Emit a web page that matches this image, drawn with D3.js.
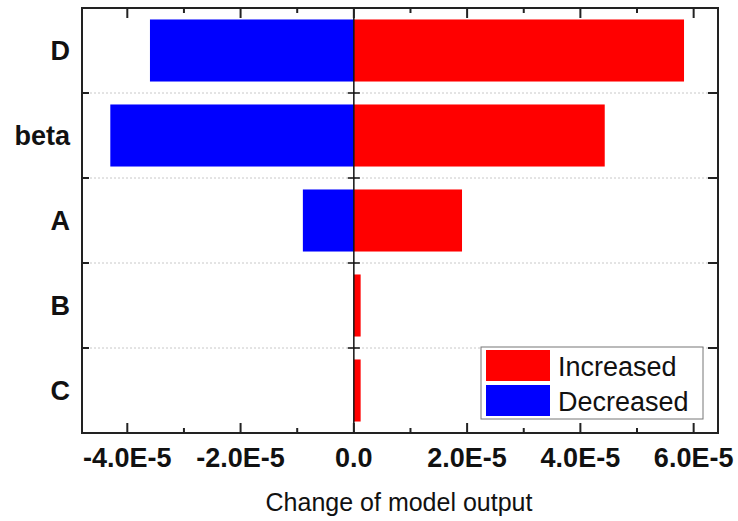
<!DOCTYPE html>
<html>
<head>
<meta charset="utf-8">
<script src="https://cdnjs.cloudflare.com/ajax/libs/d3/7.8.5/d3.min.js"></script>
<style>
  body { margin: 0; background: #fff; }
  svg { display: block; font-family: "Liberation Sans", Arial, sans-serif; }
</style>
</head>
<body>
<svg width="738" height="521"></svg>
<script>
// data
var categories = ["D", "beta", "A", "B", "C"];
var increased = [5.83e-5, 4.43e-5, 1.91e-5, 1.2e-6, 1.2e-6];
var decreased = [-3.6e-5, -4.3e-5, -0.9e-5, 0, 0];
var majorTicks = [-4e-5, -2e-5, 0, 2e-5, 4e-5, 6e-5];
var minorTicks = [-3e-5, -1e-5, 1e-5, 3e-5, 5e-5];
var legendNames = ["Increased", "Decreased"];
var colors = ["#ff0000", "#0000ff"];

var svg = d3.select("svg");
var pLeft = 82, pRight = 718, pTop = 8, pBottom = 433;

var x = d3.scaleLinear().domain([-4.8e-5, 6.43e-5]).range([pLeft, pRight]);
var y = d3.scaleBand().domain(categories).range([pTop, pBottom])
    .paddingInner(0.27).paddingOuter(0.135);
var step = y.step();

function fmt(v) {
    if (Math.abs(v) < 1e-12) return "0.0";
    return (v / 1e-5).toFixed(1) + "E-5";
}

// category boundaries (dotted grid)
var bounds = categories.slice(1).map(function (c) { return y(c) - step * 0.27 / 2; });

svg.append("g").selectAll("line").data(bounds).enter().append("line")
    .attr("x1", pLeft).attr("x2", pRight)
    .attr("y1", function (d) { return d; }).attr("y2", function (d) { return d; })
    .attr("stroke", "#c8c8c8").attr("stroke-width", 1).attr("stroke-dasharray", "2,2");

// bars
var rows = categories.map(function (c, i) { return { cat: c, inc: increased[i], dec: decreased[i] }; });

svg.append("g").selectAll("rect").data(rows).enter().append("rect")
    .attr("x", x(0))
    .attr("y", function (d) { return y(d.cat); })
    .attr("width", function (d) { return x(d.inc) - x(0); })
    .attr("height", y.bandwidth())
    .attr("fill", colors[0]);

svg.append("g").selectAll("rect").data(rows.filter(function (d) { return d.dec < 0; })).enter().append("rect")
    .attr("x", function (d) { return x(d.dec); })
    .attr("y", function (d) { return y(d.cat); })
    .attr("width", function (d) { return x(0) - x(d.dec); })
    .attr("height", y.bandwidth())
    .attr("fill", colors[1]);

// zero line with ticks
svg.append("line")
    .attr("x1", x(0)).attr("x2", x(0)).attr("y1", pTop).attr("y2", pBottom)
    .attr("stroke", "#111").attr("stroke-width", 1.5);
svg.append("g").selectAll("line").data(bounds).enter().append("line")
    .attr("x1", x(0) - 6).attr("x2", x(0) + 6)
    .attr("y1", function (d) { return d; }).attr("y2", function (d) { return d; })
    .attr("stroke", "#111").attr("stroke-width", 1.5);

// frame
svg.append("rect")
    .attr("x", pLeft).attr("y", pTop).attr("width", pRight - pLeft).attr("height", pBottom - pTop)
    .attr("fill", "none").attr("stroke", "#222").attr("stroke-width", 2);

// x ticks (inward, top and bottom)
var tickG = svg.append("g").attr("stroke", "#222").attr("stroke-width", 2);
majorTicks.forEach(function (v) {
    tickG.append("line").attr("x1", x(v)).attr("x2", x(v)).attr("y1", pBottom).attr("y2", pBottom - 10);
    tickG.append("line").attr("x1", x(v)).attr("x2", x(v)).attr("y1", pTop).attr("y2", pTop + 10);
});
minorTicks.forEach(function (v) {
    tickG.append("line").attr("x1", x(v)).attr("x2", x(v)).attr("y1", pBottom).attr("y2", pBottom - 5);
    tickG.append("line").attr("x1", x(v)).attr("x2", x(v)).attr("y1", pTop).attr("y2", pTop + 5);
});
// y ticks on frame
bounds.forEach(function (b) {
    tickG.append("line").attr("x1", pLeft).attr("x2", pLeft + 7).attr("y1", b).attr("y2", b);
    tickG.append("line").attr("x1", pRight).attr("x2", pRight - 10).attr("y1", b).attr("y2", b);
});

// x tick labels
svg.append("g").selectAll("text").data(majorTicks).enter().append("text")
    .attr("x", function (d) { return x(d); })
    .attr("y", 467)
    .attr("text-anchor", "middle")
    .attr("font-size", 27).attr("font-weight", "bold").attr("fill", "#111")
    .text(fmt);

// category labels
svg.append("g").selectAll("text").data(categories).enter().append("text")
    .attr("x", 70)
    .attr("y", function (d) { return y(d) + y.bandwidth() / 2; })
    .attr("dy", "0.36em")
    .attr("text-anchor", "end")
    .attr("font-size", 27).attr("font-weight", "bold").attr("fill", "#111")
    .text(function (d) { return d; });

// axis title
svg.append("text")
    .attr("x", (pLeft + pRight) / 2 - 1).attr("y", 511)
    .attr("text-anchor", "middle")
    .attr("font-size", 25).attr("fill", "#111")
    .text("Change of model output");

// legend
var lg = svg.append("g");
lg.append("rect").attr("x", 481).attr("y", 347).attr("width", 222).attr("height", 72)
    .attr("fill", "#fff").attr("stroke", "#777").attr("stroke-width", 1);
legendNames.forEach(function (n, i) {
    lg.append("rect").attr("x", 486).attr("y", 350 + i * 35).attr("width", 64).attr("height", 31)
        .attr("fill", colors[i]);
    lg.append("text").attr("x", 558).attr("y", 366 + i * 35).attr("dy", "0.36em")
        .attr("font-size", 27).attr("fill", "#111").text(n);
});
</script>
</body>
</html>
